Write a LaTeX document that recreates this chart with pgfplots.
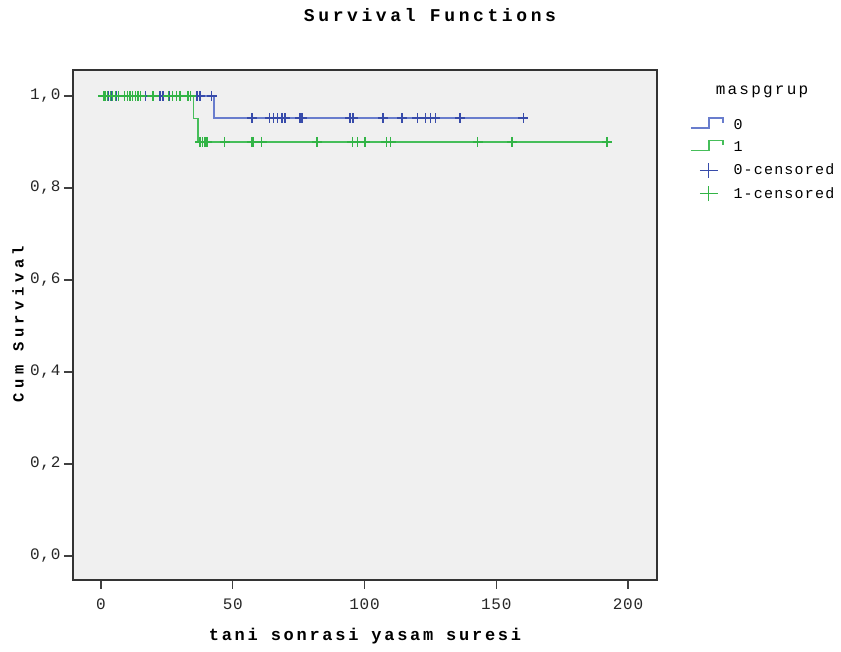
\documentclass[border=0pt]{standalone}
\usepackage{fontspec}
\setmainfont{Liberation Mono}[LetterSpace=8]
\newfontfamily\tickfont{Liberation Mono}[LetterSpace=5]
\newfontfamily\titlefont{Liberation Mono}[LetterSpace=20]
\newfontfamily\labelfont{Liberation Mono}[LetterSpace=16]
\newfontfamily\ylabelfont{Liberation Mono}[LetterSpace=29]
\newfontfamily\legtitlefont{Liberation Mono}[LetterSpace=14]
\usepackage{pgfplots}
\pgfplotsset{compat=1.18}
\definecolor{bline}{RGB}{105,125,205}
\definecolor{bmark}{RGB}{55,75,170}
\definecolor{gline}{RGB}{70,190,90}
\definecolor{gmark}{RGB}{50,180,70}
\definecolor{bg}{RGB}{240,240,240}
\begin{document}
\begin{tikzpicture}[x=1pt,y=1pt]
\path[use as bounding box] (0,0) rectangle (841,651);
\begin{axis}[
  at={(73pt,71pt)}, anchor=south west,
  scale only axis, width=584pt, height=510pt,
  xmin=-10.63, xmax=211, ymin=-0.0522, ymax=1.0565,
  xtick={0,50,100,150,200},
  ytick={0,0.2,0.4,0.6,0.8,1.0},
  tick pos=left, tick align=outside,
  major tick length=9pt,
  tick style={black!75, line width=1.2pt},
  axis line style={black!80, line width=1.3pt},
  axis background/.style={fill=bg},
  /pgf/number format/assume math mode=true,
  yticklabel style={/pgf/number format/.cd, fixed, fixed zerofill, precision=1, use comma},
  xticklabel style={/pgf/number format/fixed, yshift=-6pt},
  ticklabel style={font=\tickfont\fontsize{16}{18}\selectfont, text=black!85},
  legend style={at={(rel axis cs:1.0565,0.908)}, anchor=north west,
    draw=none, fill=none, font=\fontsize{15}{17}\selectfont,
    row sep=7pt, inner sep=0pt,
    /tikz/every odd column/.append style={column sep=8pt}},
  legend cell align=left,
  clip=false,
]
% group 0 step line
\addplot[const plot, bline, line width=1.3pt,
  legend image code/.code={\draw[bline, line width=1.3pt] (0pt,-3pt) -- (18pt,-3pt) -- (18pt,7pt) -- (32pt,7pt) -- (32pt,2pt);}]
  coordinates {(0,1) (42.9,0.952) (160.2,0.952)};
\addlegendentry{0}
% group 1 step line
\addplot[const plot, gline, line width=1.3pt,
  legend image code/.code={\draw[gline, line width=1.3pt] (0pt,-3pt) -- (18pt,-3pt) -- (18pt,7pt) -- (32pt,7pt) -- (32pt,2pt);}]
  coordinates {(0,1) (35,0.951) (36.8,0.9) (192,0.9)};
\addlegendentry{1}
% censored 0
\addplot[only marks, mark=+, mark size=5pt, bmark, mark options={line width=1.2pt},
  legend image code/.code={\draw[bmark, line width=1.2pt] (9pt,0pt) -- (27pt,0pt) (18pt,-7.5pt) -- (18pt,7.5pt);}]
  coordinates {
  (2.7,1) (4.2,1) (6,1) (10,1) (14,1) (17,1) (22.4,1) (23.5,1) (26,1) (28.5,1)
  (36.4,1) (37.6,1) (42,1)
  (57.3,0.952) (64,0.952) (65.5,0.952) (67,0.952) (68.7,0.952) (69.8,0.952)
  (75.5,0.952) (76.3,0.952) (94.5,0.952) (95.6,0.952) (107,0.952) (114.2,0.952)
  (120,0.952) (123,0.952) (124.9,0.952) (126.8,0.952) (136.2,0.952) (160.2,0.952)};
\addlegendentry{0-censored}
% censored 1
\addplot[only marks, mark=+, mark size=5pt, gmark, mark options={line width=1.2pt},
  legend image code/.code={\draw[gmark, line width=1.2pt] (9pt,0pt) -- (27pt,0pt) (18pt,-7.5pt) -- (18pt,7.5pt);}]
  coordinates {
  (0.8,1) (1.5,1) (2.5,1) (3.5,1) (4.5,1) (5.5,1) (6.5,1) (9,1) (10,1) (11,1)
  (12,1) (13,1) (14,1) (15,1) (19.5,1) (20,1) (25.5,1) (27,1) (28.5,1) (30,1)
  (33,1) (34,1)
  (37.6,0.9) (38.6,0.9) (39.5,0.9) (40.2,0.9) (47,0.9) (57.3,0.9) (57.7,0.9)
  (61,0.9) (82,0.9) (95.3,0.9) (97.2,0.9) (100.2,0.9) (108.2,0.9) (110,0.9)
  (143,0.9) (156,0.9) (192,0.9)};
\addlegendentry{1-censored}
\end{axis}
\node[font=\titlefont\fontsize{18}{20}\selectfont\bfseries] at (430,636) {Survival Functions};
\node[font=\labelfont\fontsize{17}{19}\selectfont\bfseries] at (365,15) {tani sonrasi yasam suresi};
\node[font=\ylabelfont\fontsize{15.5}{17}\selectfont\bfseries, rotate=90] at (18,327) {Cum Survival};
\node[font=\legtitlefont\fontsize{16}{18}\selectfont] at (762,559) {maspgrup};
\end{tikzpicture}
\end{document}
